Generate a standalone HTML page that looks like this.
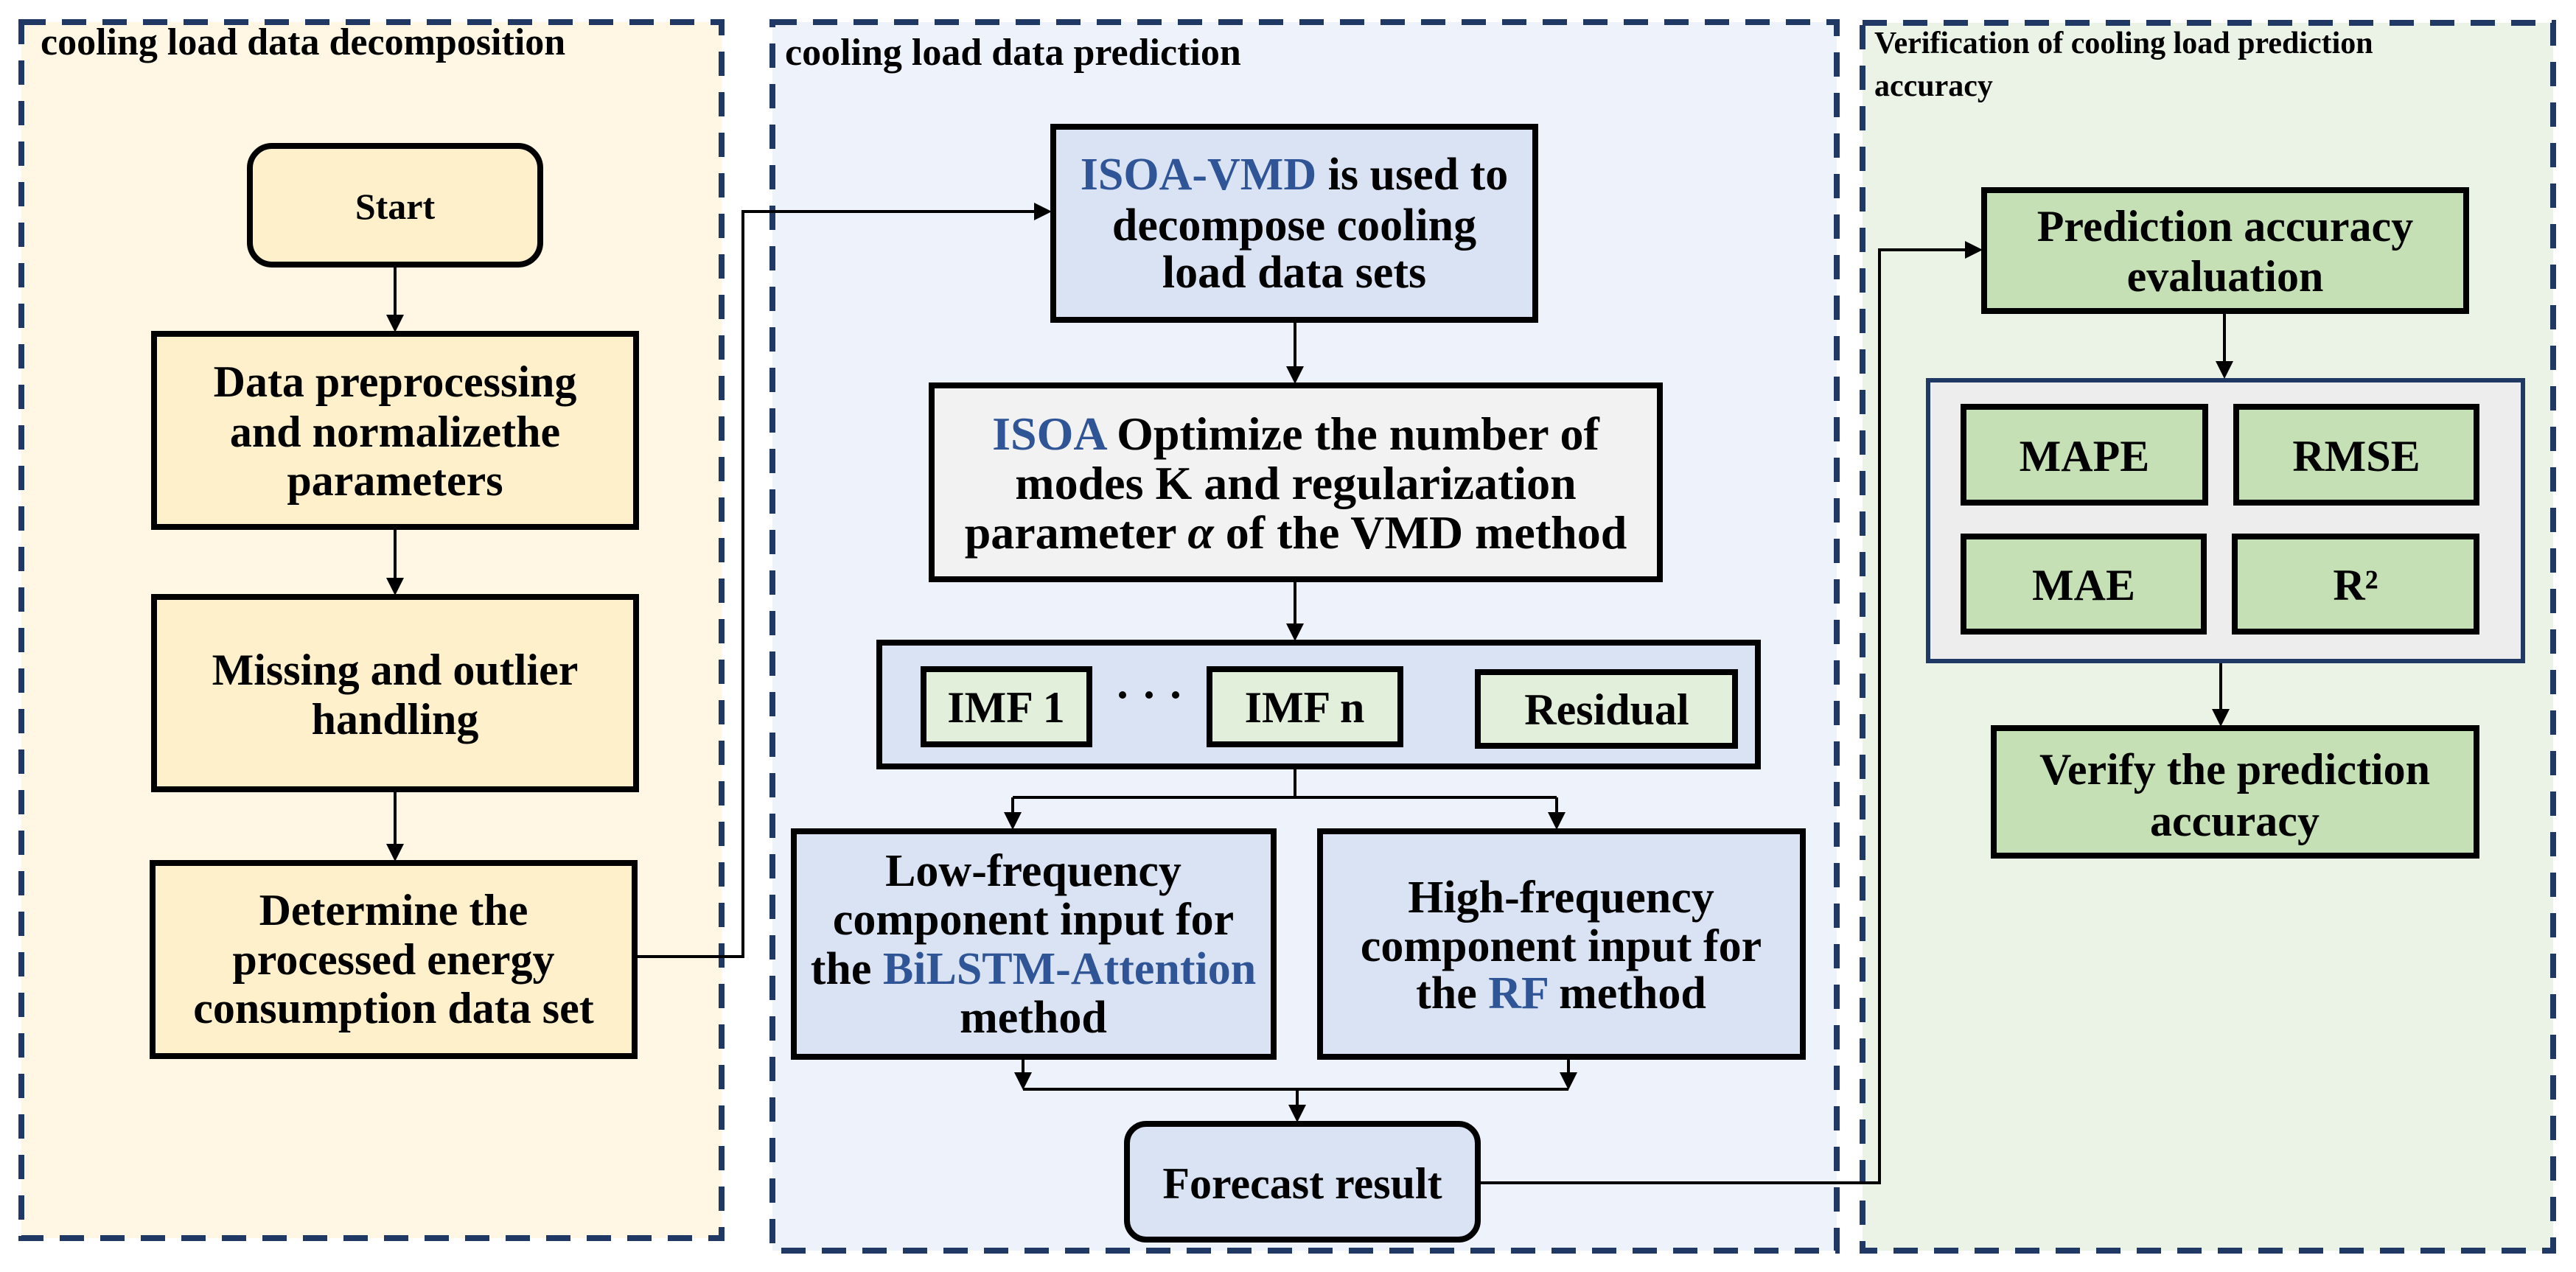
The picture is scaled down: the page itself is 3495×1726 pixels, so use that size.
<!DOCTYPE html>
<html><head><meta charset="utf-8"><style>
html,body{margin:0;padding:0;background:#fff;}
svg{display:block;}
text{font-family:"Liberation Serif",serif;font-weight:bold;fill:#000;}
.t{font-size:60px;text-anchor:middle;}
.h{font-size:42px;}
.h2{font-size:52px;}
.b{fill:#2f5597;}
</style></head><body>
<svg width="3495" height="1726" viewBox="0 0 3495 1726" xmlns="http://www.w3.org/2000/svg">
<defs>
<marker id="ah" markerWidth="6" markerHeight="6" refX="5" refY="3" orient="auto" markerUnits="strokeWidth">
<path d="M0,0 L6,3 L0,6 z" fill="#000"/>
</marker>
</defs>
<rect x="29" y="30" width="950" height="1650" fill="#fff6e4" stroke="#1f3864" stroke-width="8" stroke-dasharray="33,22"/>
<rect x="1048" y="30" width="1444" height="1667" fill="#eef3fb" stroke="#1f3864" stroke-width="8" stroke-dasharray="33,22"/>
<rect x="2527" y="31" width="937" height="1666" fill="#ebf3e7" stroke="#1f3864" stroke-width="8" stroke-dasharray="33,22"/>
<text class="h2" x="55" y="74">cooling load data decomposition</text>
<text class="h2" x="1065" y="88">cooling load data prediction</text>
<text class="h" x="2543" y="72">Verification of cooling load prediction</text>
<text class="h" x="2543" y="130">accuracy</text>

<rect x="339" y="198" width="394" height="161" rx="30" fill="#fff0cc" stroke="#000" stroke-width="8"/>
<text class="t" x="536" y="297" style="font-size:50px">Start</text>
<rect x="209" y="453" width="654" height="262" fill="#fff0cc" stroke="#000" stroke-width="8"/>
<text class="t" x="536" y="538">Data preprocessing</text>
<text class="t" x="536" y="606">and normalizethe</text>
<text class="t" x="536" y="672">parameters</text>
<rect x="209" y="810" width="654" height="261" fill="#fff0cc" stroke="#000" stroke-width="8"/>
<text class="t" x="536" y="929">Missing and outlier</text>
<text class="t" x="536" y="996">handling</text>
<rect x="207" y="1171" width="654" height="262" fill="#fff0cc" stroke="#000" stroke-width="8"/>
<text class="t" x="534" y="1255">Determine the</text>
<text class="t" x="534" y="1322">processed energy</text>
<text class="t" x="534" y="1388">consumption data set</text>
<g stroke="#000" stroke-width="4" fill="none" marker-end="url(#ah)">
<line x1="536" y1="363" x2="536" y2="447"/>
<line x1="536" y1="719" x2="536" y2="804"/>
<line x1="536" y1="1075" x2="536" y2="1165"/>
<polyline points="865,1298 1008,1298 1008,287 1423,287"/>
</g>

<rect x="1429" y="172" width="654" height="262" fill="#dae3f3" stroke="#000" stroke-width="8"/>
<text class="t" x="1756" y="257" style="font-size:62px"><tspan class="b">ISOA-VMD</tspan> is used to</text>
<text class="t" x="1756" y="326" style="font-size:62px">decompose cooling</text>
<text class="t" x="1756" y="390" style="font-size:62px">load data sets</text>
<rect x="1264" y="523" width="988" height="263" fill="#f2f2f2" stroke="#000" stroke-width="8"/>
<text class="t" x="1758" y="610" style="font-size:64px"><tspan class="b">ISOA</tspan> Optimize the number of</text>
<text class="t" x="1758" y="677" style="font-size:64px">modes K and regularization</text>
<text class="t" x="1758" y="744" style="font-size:64px">parameter <tspan font-style="italic">α</tspan> of the VMD method</text>
<rect x="1193" y="872" width="1192" height="168" fill="#dae3f3" stroke="#000" stroke-width="8"/>
<rect x="1253" y="908" width="225" height="102" fill="#e2efda" stroke="#000" stroke-width="8"/>
<text class="t" x="1365" y="980">IMF 1</text>
<circle cx="1523" cy="943" r="5" fill="#000"/><circle cx="1559" cy="943" r="5" fill="#000"/><circle cx="1595" cy="943" r="5" fill="#000"/>
<rect x="1641" y="908" width="259" height="102" fill="#e2efda" stroke="#000" stroke-width="8"/>
<text class="t" x="1770" y="980">IMF n</text>
<rect x="2005" y="912" width="349" height="100" fill="#e2efda" stroke="#000" stroke-width="8"/>
<text class="t" x="2180" y="983">Residual</text>
<rect x="1077" y="1128" width="651" height="306" fill="#dae3f3" stroke="#000" stroke-width="8"/>
<text class="t" x="1402" y="1202" style="font-size:62px">Low-frequency</text>
<text class="t" x="1402" y="1268" style="font-size:62px">component input for</text>
<text class="t" x="1402" y="1335" style="font-size:62px">the <tspan class="b">BiLSTM-Attention</tspan></text>
<text class="t" x="1402" y="1401" style="font-size:62px">method</text>
<rect x="1791" y="1128" width="655" height="306" fill="#dae3f3" stroke="#000" stroke-width="8"/>
<text class="t" x="2118" y="1238" style="font-size:62px">High-frequency</text>
<text class="t" x="2118" y="1304" style="font-size:62px">component input for</text>
<text class="t" x="2118" y="1368" style="font-size:62px">the <tspan class="b">RF</tspan> method</text>
<rect x="1529" y="1525" width="476" height="157" rx="26" fill="#dae3f3" stroke="#000" stroke-width="8"/>
<text class="t" x="1767" y="1626">Forecast result</text>
<g stroke="#000" stroke-width="4" fill="none">
<line x1="1757" y1="438" x2="1757" y2="517" marker-end="url(#ah)"/>
<line x1="1757" y1="790" x2="1757" y2="866" marker-end="url(#ah)"/>
<line x1="1757" y1="1044" x2="1757" y2="1082"/>
<line x1="1374" y1="1082" x2="2112" y2="1082"/>
<line x1="1374" y1="1082" x2="1374" y2="1122" marker-end="url(#ah)"/>
<line x1="2112" y1="1082" x2="2112" y2="1122" marker-end="url(#ah)"/>
<line x1="1388" y1="1438" x2="1388" y2="1475" marker-end="url(#ah)"/>
<line x1="2128" y1="1438" x2="2128" y2="1475" marker-end="url(#ah)"/>
<line x1="1388" y1="1478" x2="2128" y2="1478"/>
<line x1="1760" y1="1478" x2="1760" y2="1519" marker-end="url(#ah)"/>
<polyline points="2009,1605 2550,1605 2550,339 2686,339" marker-end="url(#ah)"/>
</g>

<rect x="2692" y="258" width="654" height="164" fill="#c5e0b4" stroke="#000" stroke-width="8"/>
<text class="t" x="3019" y="327">Prediction accuracy</text>
<text class="t" x="3019" y="395">evaluation</text>
<rect x="2616" y="516" width="807" height="381" fill="#ededed" stroke="#1f3864" stroke-width="6"/>
<rect x="2664" y="552" width="328" height="130" fill="#c5e0b4" stroke="#000" stroke-width="8"/>
<text class="t" x="2828" y="639">MAPE</text>
<rect x="3034" y="552" width="326" height="130" fill="#c5e0b4" stroke="#000" stroke-width="8"/>
<text class="t" x="3197" y="639">RMSE</text>
<rect x="2664" y="728" width="326" height="129" fill="#c5e0b4" stroke="#000" stroke-width="8"/>
<text class="t" x="2827" y="814">MAE</text>
<rect x="3032" y="728" width="328" height="129" fill="#c5e0b4" stroke="#000" stroke-width="8"/>
<text class="t" x="3196" y="814">R²</text>
<rect x="2705" y="988" width="655" height="173" fill="#c5e0b4" stroke="#000" stroke-width="8"/>
<text class="t" x="3032" y="1064">Verify the prediction</text>
<text class="t" x="3032" y="1134">accuracy</text>
<g stroke="#000" stroke-width="4" fill="none" marker-end="url(#ah)">
<line x1="3018" y1="426" x2="3018" y2="510"/>
<line x1="3013" y1="900" x2="3013" y2="982"/>
</g>
</svg>
</body></html>
